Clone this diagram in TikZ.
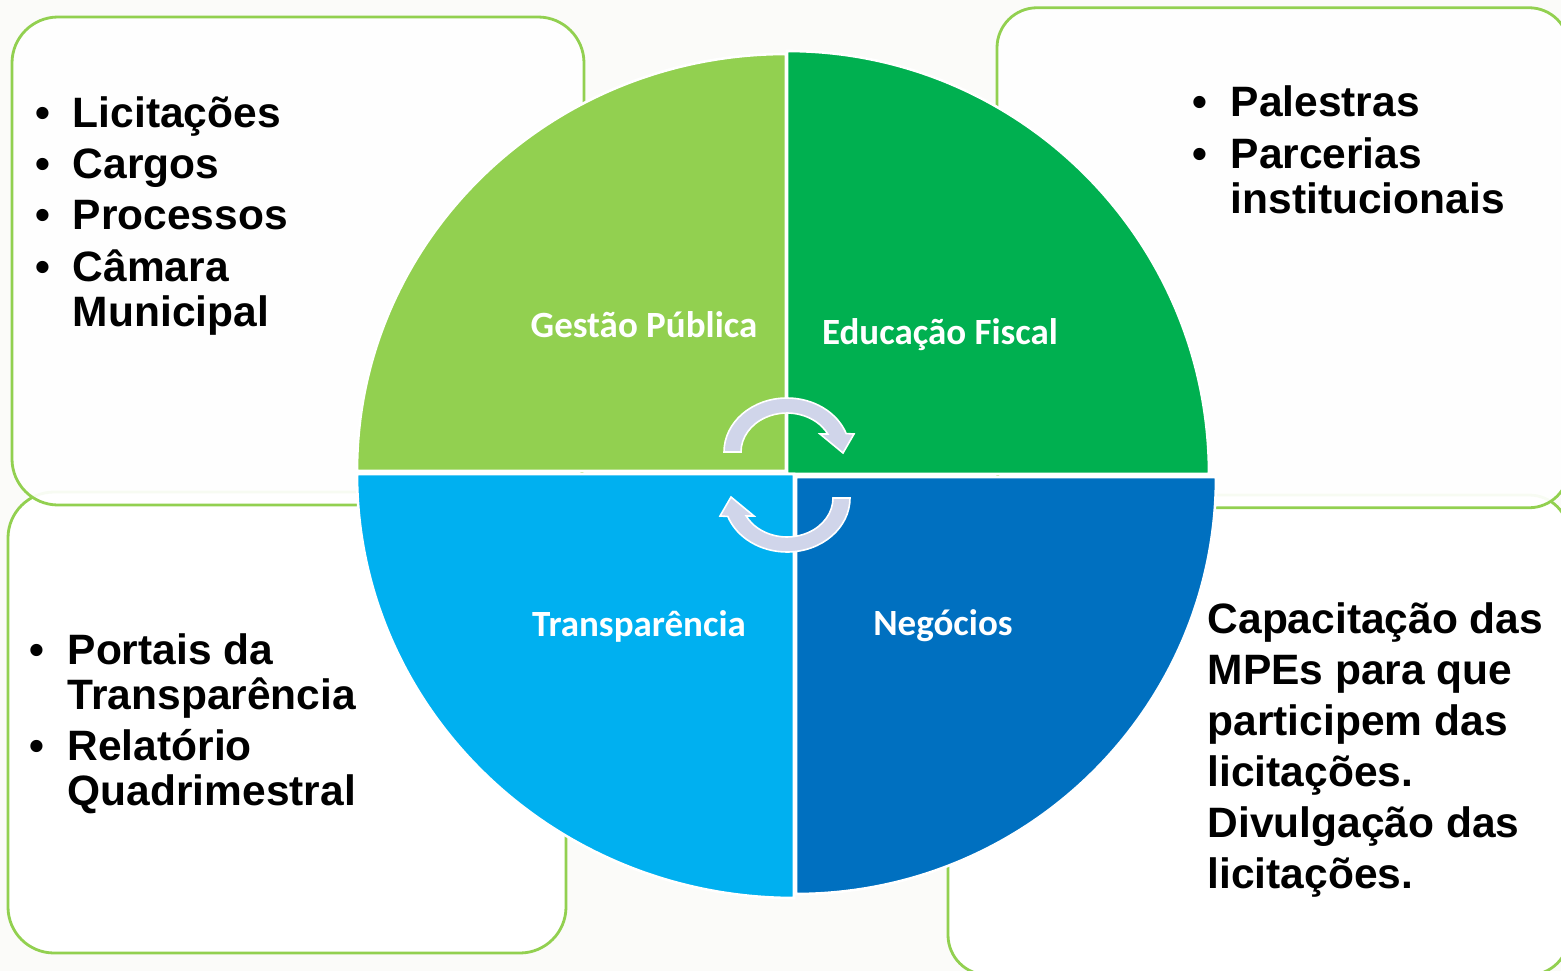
\documentclass[tikz,border=0pt]{standalone}
\usepackage{fontspec}
\setmainfont{Liberation Sans}
\newfontfamily\labelfont{Carlito}
\definecolor{lgreen}{RGB}{146,208,80}
\definecolor{dgreen}{RGB}{0,176,80}
\definecolor{lblue}{RGB}{0,176,240}
\definecolor{dblue}{RGB}{0,112,192}
\definecolor{arrowfill}{RGB}{208,213,234}
\definecolor{bgcol}{RGB}{251,251,249}
\begin{document}
\begin{tikzpicture}[x=1pt,y=1pt,
  box/.style={draw=lgreen, line width=2.8pt, fill=white, rounded corners=46pt, inner sep=0pt},
  quad/.style={draw=white, line width=2.6pt},
  cycarrow/.style={fill=arrowfill, draw=white, line width=1.6pt, line join=miter},
  lbl/.style={text=white, font=\labelfont\bfseries\fontsize{37}{40}\selectfont, inner sep=0pt, anchor=base},
  listtxt/.style={font=\bfseries\fontsize{42.5}{45}\selectfont, inner sep=0pt, anchor=base west}]
\useasboundingbox (0,0) rectangle (1561,-971);
\clip (0,0) rectangle (1561,-971);
\fill[bgcol] (0,0) rectangle (1561,-971);

% boxes
\node[box, minimum width=558pt, minimum height=461pt] (boxBL) at (287,-722.5) {};
\node[box, fill opacity=0.93, minimum width=572pt, minimum height=488pt] (boxTL) at (298,-261) {};
\node[box, rounded corners=40pt, minimum width=621pt, minimum height=480pt] (boxBR) at (1258.5,-735) {};
\node[box, rounded corners=40pt, fill opacity=0.93, minimum width=572pt, minimum height=500pt] (boxTR) at (1283,-257.75) {};

% quadrants
\draw[quad, fill=lgreen] (786,-471) -- (357,-471) arc[start angle=180, end angle=90, x radius=429pt, y radius=417pt] -- cycle;
\draw[quad, fill=dgreen] (787,-474) -- (787,-51) arc[start angle=90, end angle=0, x radius=422pt, y radius=423pt] -- cycle;
\draw[quad, fill=lblue] (794,-474) -- (357,-474) arc[start angle=180, end angle=270, x radius=437pt, y radius=424pt] -- cycle;
\draw[quad, fill=dblue] (796,-477) -- (1216,-477) arc[start angle=0, end angle=-90, x radius=420pt, y radius=417pt] -- cycle;

% circular arrows
\draw[cycarrow] (724,-452) arc[start angle=180, end angle=20, x radius=63pt, y radius=54pt]
  -- (854,-434) -- (843,-453) -- (820,-434) -- (827.8,-434)
  arc[start angle=27.5, end angle=180, x radius=46pt, y radius=39pt] -- cycle;
\begin{scope}[rotate around={180:(787,-475)}]
\draw[cycarrow] (724,-452) arc[start angle=180, end angle=20, x radius=63pt, y radius=54pt]
  -- (854,-434) -- (843,-453) -- (820,-434) -- (827.8,-434)
  arc[start angle=27.5, end angle=180, x radius=46pt, y radius=39pt] -- cycle;
\end{scope}

% quadrant labels
\node[lbl] (gp) at (644,-337) {Gestão Pública};
\node[lbl] (ef) at (940,-344) {Educação Fiscal};
\node[lbl] (tr) at (639,-636) {Transparência};
\node[lbl] (ng) at (943,-635) {Negócios};

% box texts
\node[listtxt] (tlText) at (34.8,-128) {\begin{tabular}[t]{@{}l@{\hspace{23pt}}l@{}}
• & Licitações\\[6pt]
• & Cargos\\[6pt]
• & Processos\\[6pt]
• & Câmara\\
  & Municipal
\end{tabular}};
\node[listtxt] (trText) at (1192.6,-117) {\begin{tabular}[t]{@{}l@{\hspace{23pt}}l@{}}
• & Palestras\\[7pt]
• & Parcerias\\
  & institucionais
\end{tabular}};
\node[listtxt] (blText) at (29.6,-664) {\begin{tabular}[t]{@{}l@{\hspace{23pt}}l@{}}
• & Portais da\\
  & Transparência\\[6pt]
• & Relatório\\
  & Quadrimestral
\end{tabular}};
\node[listtxt, font=\bfseries\fontsize{42.5}{51}\selectfont] (brText) at (1207.5,-633) {\begin{tabular}[t]{@{}l@{}}
Capacitação das\\
MPEs para que\\
participem das\\
licitações.\\
Divulgação das\\
licitações.
\end{tabular}};
\end{tikzpicture}
\end{document}
